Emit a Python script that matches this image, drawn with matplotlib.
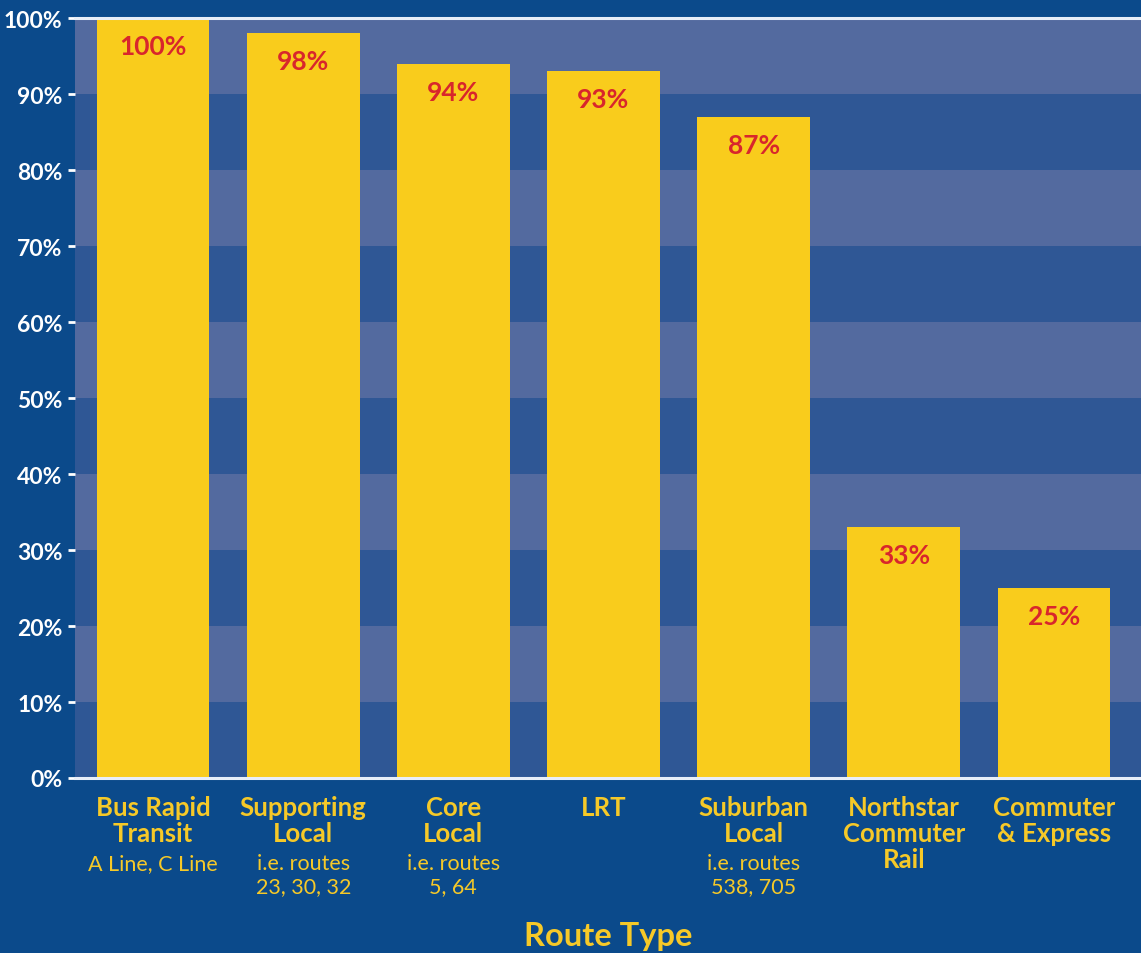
import matplotlib.pyplot as plt
import numpy as np

# route types (bold part) and the small example lines under them
categories = ["Bus Rapid\nTransit", "Supporting\nLocal", "Core\nLocal", "LRT",
              "Suburban\nLocal", "Northstar\nCommuter\nRail", "Commuter\n& Express"]
subtitles = ["A Line, C Line", "i.e. routes\n23, 30, 32", "i.e. routes\n5, 64", "",
             "i.e. routes\n538, 705", "", ""]
values = [100, 98, 94, 93, 87, 33, 25]
yticks = list(range(0, 101, 10))

bg = "#0b4a8b"
band_light = "#536a9f"
band_dark = "#2f5795"
bar_color = "#f9cc1c"
text_yellow = "#f6c928"
label_red = "#d8262c"

plt.rcParams['font.family'] = ['Lato', 'DejaVu Sans']

fig = plt.figure(figsize=(11.41, 9.54), dpi=100, facecolor=bg)
ax = fig.add_axes([75 / 1141, 175 / 954, 1 - 75 / 1141, 760 / 954])
ax.set_facecolor(band_dark)

x = np.arange(len(values))
ax.set_xlim(-0.52, 6.58)
ax.set_ylim(0, 100)

# alternating horizontal bands
for lo in range(10, 100, 20):
    ax.axhspan(lo, lo + 10, color=band_light, zorder=0, lw=0)

ax.bar(x, values, width=0.75, color=bar_color, zorder=2)

for xi, v in zip(x, values):
    ax.text(xi, v - 3.7, f"{v}%", ha="center", va="center", color=label_red,
            fontsize=19, fontweight="bold", zorder=3)

# top and bottom white rules
ax.axhline(100, color="#e8eef8", lw=2.2, zorder=4, clip_on=False)
ax.axhline(0, color="#e8eef8", lw=2.2, zorder=4, clip_on=False)

for s in ax.spines.values():
    s.set_visible(False)

ax.set_yticks(yticks)
ax.set_yticklabels([f"{t}%" for t in yticks])
ax.tick_params(axis="y", colors="white", length=5, width=2, pad=4, labelsize=16.5)
for lab in ax.get_yticklabels():
    lab.set_fontweight("bold")
ax.set_xticks([])

# category labels below the axis
line_pt = 26 * 72 / 100
for xi, cat, sub in zip(x, categories, subtitles):
    n = cat.count("\n") + 1
    for i, line in enumerate(cat.split("\n")):
        ax.annotate(line, xy=(xi, 0), xycoords=("data", "axes fraction"),
                    xytext=(0, -(29 * 0.72) - i * line_pt), textcoords="offset points",
                    ha="center", va="center", color=text_yellow, fontsize=18.5,
                    fontweight="bold")
    if sub:
        for j, line in enumerate(sub.split("\n")):
            ax.annotate(line, xy=(xi, 0), xycoords=("data", "axes fraction"),
                        xytext=(0, -(29 * 0.72) - (n + 0.15) * line_pt - j * 23 * 0.72),
                        textcoords="offset points", ha="center", va="center",
                        color=text_yellow, fontsize=15.5)

fig.text(608 / 1141, 1 - 937 / 954, "Route Type", ha="center", va="center",
         color=text_yellow, fontsize=23.5, fontweight="bold")

fig.savefig("out.png", dpi=100, facecolor=bg)
